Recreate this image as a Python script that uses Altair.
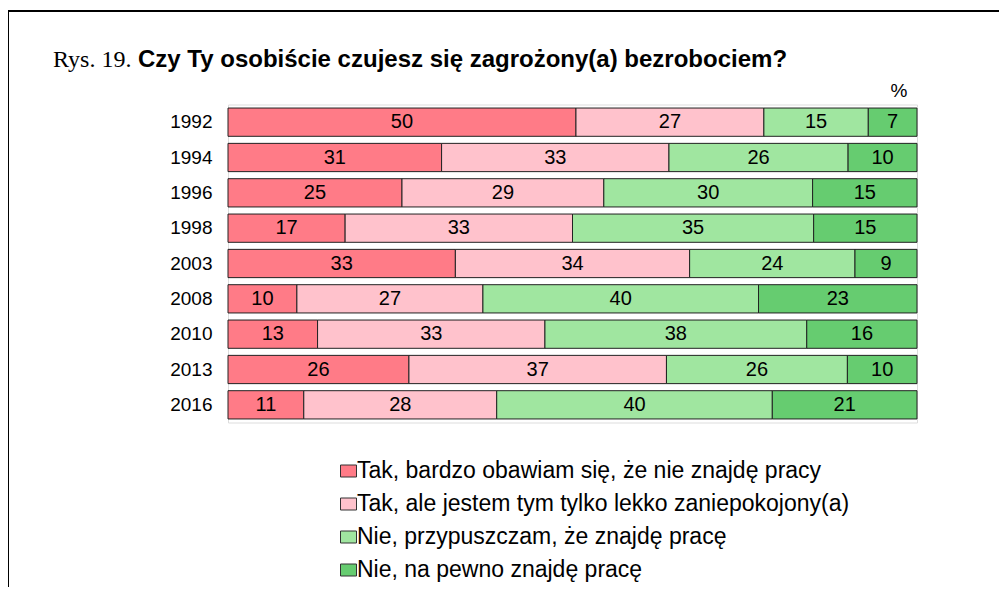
import altair as alt
import pandas as pd

years = ["1992", "1994", "1996", "1998", "2003", "2008", "2010", "2013", "2016"]
categories = [
    "Tak, bardzo obawiam się, że nie znajdę pracy",
    "Tak, ale jestem tym tylko lekko zaniepokojony(a)",
    "Nie, przypuszczam, że znajdę pracę",
    "Nie, na pewno znajdę pracę",
]
very_afraid = [50, 31, 25, 17, 33, 10, 13, 26, 11]
slightly = [27, 33, 29, 33, 34, 27, 33, 37, 28]
probably_not = [15, 26, 30, 35, 24, 40, 38, 26, 40]
surely_not = [7, 10, 15, 15, 9, 23, 16, 10, 21]
colors = ["#FF7B87", "#FFC2CC", "#A0E6A0", "#66CC70"]

series = [very_afraid, slightly, probably_not, surely_not]
rows = []
for ci, (cat, vals) in enumerate(zip(categories, series)):
    for y, v in zip(years, vals):
        rows.append({"year": y, "cat": cat, "order": ci, "value": v})
df = pd.DataFrame(rows)

W, H = 689, 318
PAD_L, PAD_T = 220, 96.5

base = alt.Chart(df).transform_stack(
    stack="value", groupby=["year"], as_=["v0", "v1"],
    sort=[alt.SortField("order", order="ascending")], offset="normalize"
)

ysc = alt.Scale(domain=years, paddingInner=0.2, paddingOuter=0.1)
xsc = alt.Scale(domain=[0, 1], nice=False, zero=False)

bars = base.mark_bar(stroke="#222222", strokeWidth=1).encode(
    y=alt.Y("year:N", scale=ysc, sort=years, title=None,
            axis=alt.Axis(ticks=False, domain=False, labelFontSize=19,
                          labelFont="Liberation Sans", labelColor="#000000",
                          labelPadding=16)),
    x=alt.X("v0:Q", scale=xsc, axis=None),
    x2="v1:Q",
    color=alt.Color("cat:N", scale=alt.Scale(domain=categories, range=colors),
                    sort=categories, title=None,
                    legend=alt.Legend(
                        orient="none", legendX=106, legendY=355,
                        symbolType="M-0.625,-0.75L1.375,-0.75L1.375,0.75L-0.625,0.75Z",
                        symbolSize=256, symbolStrokeColor="#333333",
                        symbolStrokeWidth=1, labelFontSize=23,
                        labelFont="Liberation Sans", labelColor="#000000",
                        rowPadding=9, labelOffset=0, padding=0,
                        labelLimit=700, symbolOpacity=1)),
)

labels = base.transform_calculate(mid="(datum.v0 + datum.v1) / 2").mark_text(
    fontSize=20, font="Liberation Sans", color="#000000", baseline="middle"
).encode(
    y=alt.Y("year:N", scale=ysc, sort=years),
    x=alt.X("mid:Q", scale=xsc),
    text="value:Q",
)

one = alt.Chart(pd.DataFrame({"k": [0]}))
frame = one.mark_rect(fill=None, stroke="#000000", strokeWidth=2).encode(
    x=alt.value(-220), x2=alt.value(900), y=alt.value(-93.5), y2=alt.value(800)
)
title1 = one.mark_text(text="Rys. 19.", font="Liberation Serif", fontSize=24,
                       align="left", baseline="alphabetic", color="#000000").encode(
    x=alt.value(-175), y=alt.value(-38))
title2 = one.mark_text(text="Czy Ty osobiście czujesz się zagrożony(a) bezrobociem?",
                       font="Liberation Sans", fontSize=24, fontWeight="bold",
                       align="left", baseline="alphabetic", color="#000000").encode(
    x=alt.value(-90), y=alt.value(-38))
pct = one.mark_text(text="%", font="Liberation Sans", fontSize=19,
                    align="center", baseline="alphabetic", color="#000000").encode(
    x=alt.value(671), y=alt.value(-8))

chart = alt.layer(frame, bars, labels, title1, title2, pct).properties(
    width=W, height=H,
    padding={"left": PAD_L, "top": PAD_T, "right": 82, "bottom": 164},
    autosize=alt.AutoSizeParams(type="none"),
).configure_view(stroke=None).configure(background="white")

chart.save("out.html", embed_options={"renderer": "svg", "actions": False})
